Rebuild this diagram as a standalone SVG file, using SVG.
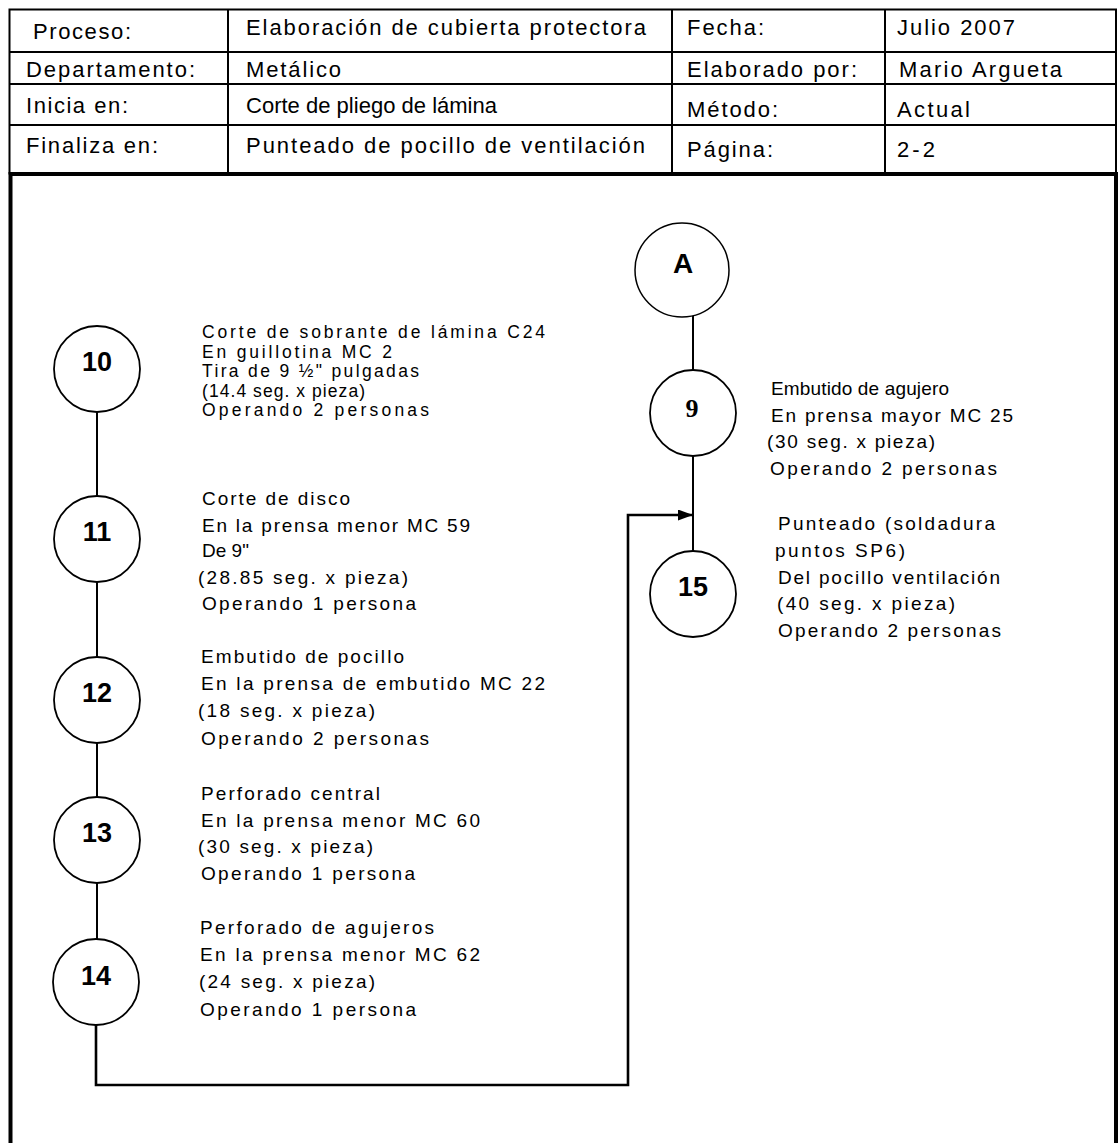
<svg xmlns="http://www.w3.org/2000/svg" width="1119" height="1143" viewBox="0 0 1119 1143">
<style>
.h{font-family:"Liberation Sans",Arial,sans-serif;font-size:22px;fill:#000}
.b{font-family:"Liberation Sans",Arial,sans-serif;font-size:19px;fill:#000}
.s{font-family:"Liberation Sans",Arial,sans-serif;font-size:17.5px;fill:#000}
.num{font-family:"Liberation Sans",Arial,sans-serif;font-size:27px;font-weight:bold;fill:#000;text-anchor:middle}
.op{fill:#fff;stroke:#000;stroke-width:1.8}
.grid{stroke:#000;stroke-width:2;fill:none}
.conn{stroke:#000;stroke-width:2;fill:none}
.flow{stroke:#000;stroke-width:2.6;fill:none}
</style>
<defs>
<marker id="arr" markerUnits="userSpaceOnUse" markerWidth="15" markerHeight="11" refX="14" refY="5.5" orient="auto">
<path d="M0,0 L15,5.5 L0,11 z" fill="#000"/>
</marker>
</defs>
<rect width="1119" height="1143" fill="#fff"/>

<g id="header-table">
<rect class="grid" x="9.5" y="9.5" width="1106.5" height="164"/>
<line class="grid" x1="9.5" y1="52" x2="1116" y2="52"/>
<line class="grid" x1="9.5" y1="84" x2="1116" y2="84"/>
<line class="grid" x1="9.5" y1="125" x2="1116" y2="125"/>
<line class="grid" x1="228" y1="9.5" x2="228" y2="173"/>
<line class="grid" x1="672" y1="9.5" x2="672" y2="173"/>
<line class="grid" x1="885" y1="9.5" x2="885" y2="173"/>
<text class="h" x="33" y="39" textLength="98" lengthAdjust="spacing">Proceso:</text>
<text class="h" x="26" y="77" textLength="169" lengthAdjust="spacing">Departamento:</text>
<text class="h" x="26" y="113" textLength="102" lengthAdjust="spacing">Inicia en:</text>
<text class="h" x="26" y="153" textLength="132" lengthAdjust="spacing">Finaliza en:</text>
<text class="h" x="246" y="35" textLength="400" lengthAdjust="spacing">Elaboración de cubierta protectora</text>
<text class="h" x="246" y="77" textLength="95" lengthAdjust="spacing">Metálico</text>
<text class="h" x="246" y="113" textLength="251" lengthAdjust="spacing">Corte de pliego de lámina</text>
<text class="h" x="246" y="153" textLength="399" lengthAdjust="spacing">Punteado de pocillo de ventilación</text>
<text class="h" x="687" y="35" textLength="77" lengthAdjust="spacing">Fecha:</text>
<text class="h" x="687" y="77" textLength="170" lengthAdjust="spacing">Elaborado por:</text>
<text class="h" x="687" y="117" textLength="91" lengthAdjust="spacing">Método:</text>
<text class="h" x="687" y="157" textLength="86" lengthAdjust="spacing">Página:</text>
<text class="h" x="897" y="35" textLength="118" lengthAdjust="spacing">Julio 2007</text>
<text class="h" x="899" y="77" textLength="163" lengthAdjust="spacing">Mario Argueta</text>
<text class="h" x="897" y="117" textLength="73" lengthAdjust="spacing">Actual</text>
<text class="h" x="897" y="157" textLength="38" lengthAdjust="spacing">2-2</text>
</g>

<g id="main-frame">
<path d="M10.5,1150 V174 H1116 V1150" fill="none" stroke="#000" stroke-width="4"/>
</g>

<g id="connectors">
<line class="conn" x1="97" y1="412" x2="97" y2="496"/>
<line class="conn" x1="97" y1="582" x2="97" y2="657"/>
<line class="conn" x1="97" y1="743" x2="97" y2="797"/>
<line class="conn" x1="97" y1="883" x2="97" y2="939"/>
<line class="conn" x1="693" y1="316" x2="693" y2="370"/>
<line class="conn" x1="693" y1="456" x2="693" y2="551"/>
<path class="flow" d="M96,1025 V1085 H628 V515 H692" marker-end="url(#arr)"/>
</g>

<g id="node-A">
<circle class="op" cx="682" cy="270" r="47" style="stroke-width:1.5"/>
<text class="num" x="683" y="273" style="font-size:28px">A</text>
</g>

<g id="node-10">
<circle class="op" cx="97" cy="369" r="43"/>
<text class="num" x="97" y="371">10</text>
<g class="s">
<text x="202" y="338" textLength="343" lengthAdjust="spacing">Corte de sobrante de lámina  C24</text>
<text x="202" y="357.5" textLength="190" lengthAdjust="spacing">En guillotina MC 2</text>
<text x="202" y="377" textLength="217" lengthAdjust="spacing">Tira de 9 ½" pulgadas</text>
<text x="202" y="396.5" textLength="163" lengthAdjust="spacing">(14.4 seg. x pieza)</text>
<text x="202" y="416" textLength="227" lengthAdjust="spacing">Operando 2 personas</text>
</g>
</g>

<g id="node-11">
<circle class="op" cx="97" cy="539" r="43"/>
<text class="num" x="97" y="541">11</text>
<g class="b">
<text x="202" y="505" textLength="148" lengthAdjust="spacing">Corte de disco</text>
<text x="202" y="532" textLength="268" lengthAdjust="spacing">En la prensa menor MC 59</text>
<text x="202" y="557">De 9"</text>
<text x="198" y="584" textLength="210" lengthAdjust="spacing">(28.85 seg. x pieza)</text>
<text x="202" y="610" textLength="214" lengthAdjust="spacing">Operando 1 persona</text>
</g>
</g>

<g id="node-12">
<circle class="op" cx="97" cy="700" r="43"/>
<text class="num" x="97" y="702">12</text>
<g class="b">
<text x="201" y="663" textLength="203" lengthAdjust="spacing">Embutido de pocillo</text>
<text x="201" y="690" textLength="344" lengthAdjust="spacing">En la prensa de embutido MC 22</text>
<text x="198" y="717" textLength="177" lengthAdjust="spacing">(18 seg. x pieza)</text>
<text x="201" y="745" textLength="228" lengthAdjust="spacing">Operando 2 personas</text>
</g>
</g>

<g id="node-13">
<circle class="op" cx="97" cy="840" r="43"/>
<text class="num" x="97" y="842">13</text>
<g class="b">
<text x="201" y="800" textLength="179" lengthAdjust="spacing">Perforado central</text>
<text x="201" y="827" textLength="279" lengthAdjust="spacing">En la prensa menor MC 60</text>
<text x="198" y="853" textLength="175" lengthAdjust="spacing">(30 seg. x pieza)</text>
<text x="201" y="880" textLength="214" lengthAdjust="spacing">Operando 1 persona</text>
</g>
</g>

<g id="node-14">
<circle class="op" cx="96" cy="982" r="43"/>
<text class="num" x="96" y="985">14</text>
<g class="b">
<text x="200" y="934" textLength="234" lengthAdjust="spacing">Perforado de agujeros</text>
<text x="200" y="961" textLength="280" lengthAdjust="spacing">En la prensa menor MC 62</text>
<text x="199" y="988" textLength="176" lengthAdjust="spacing">(24 seg. x pieza)</text>
<text x="200" y="1016" textLength="216" lengthAdjust="spacing">Operando 1 persona</text>
</g>
</g>

<g id="node-9">
<circle class="op" cx="693" cy="413" r="43"/>
<text x="692" y="417" style="font-family:'Liberation Serif','Times New Roman',serif;font-size:26px;font-weight:bold;text-anchor:middle">9</text>
<g class="b">
<text x="771" y="395" textLength="178" lengthAdjust="spacing">Embutido de agujero</text>
<text x="771" y="422" textLength="242" lengthAdjust="spacing">En prensa mayor MC 25</text>
<text x="767" y="448" textLength="168" lengthAdjust="spacing">(30 seg. x pieza)</text>
<text x="770" y="475" textLength="227" lengthAdjust="spacing">Operando 2 personas</text>
</g>
</g>

<g id="node-15">
<circle class="op" cx="693" cy="594" r="43"/>
<text class="num" x="693" y="596">15</text>
<g class="b">
<text x="778" y="530" textLength="217" lengthAdjust="spacing">Punteado (soldadura</text>
<text x="775" y="557" textLength="130" lengthAdjust="spacing">puntos SP6)</text>
<text x="778" y="584" textLength="222" lengthAdjust="spacing">Del pocillo ventilación</text>
<text x="777" y="610" textLength="178" lengthAdjust="spacing">(40 seg. x pieza)</text>
<text x="778" y="637" textLength="223" lengthAdjust="spacing">Operando 2 personas</text>
</g>
</g>
</svg>
